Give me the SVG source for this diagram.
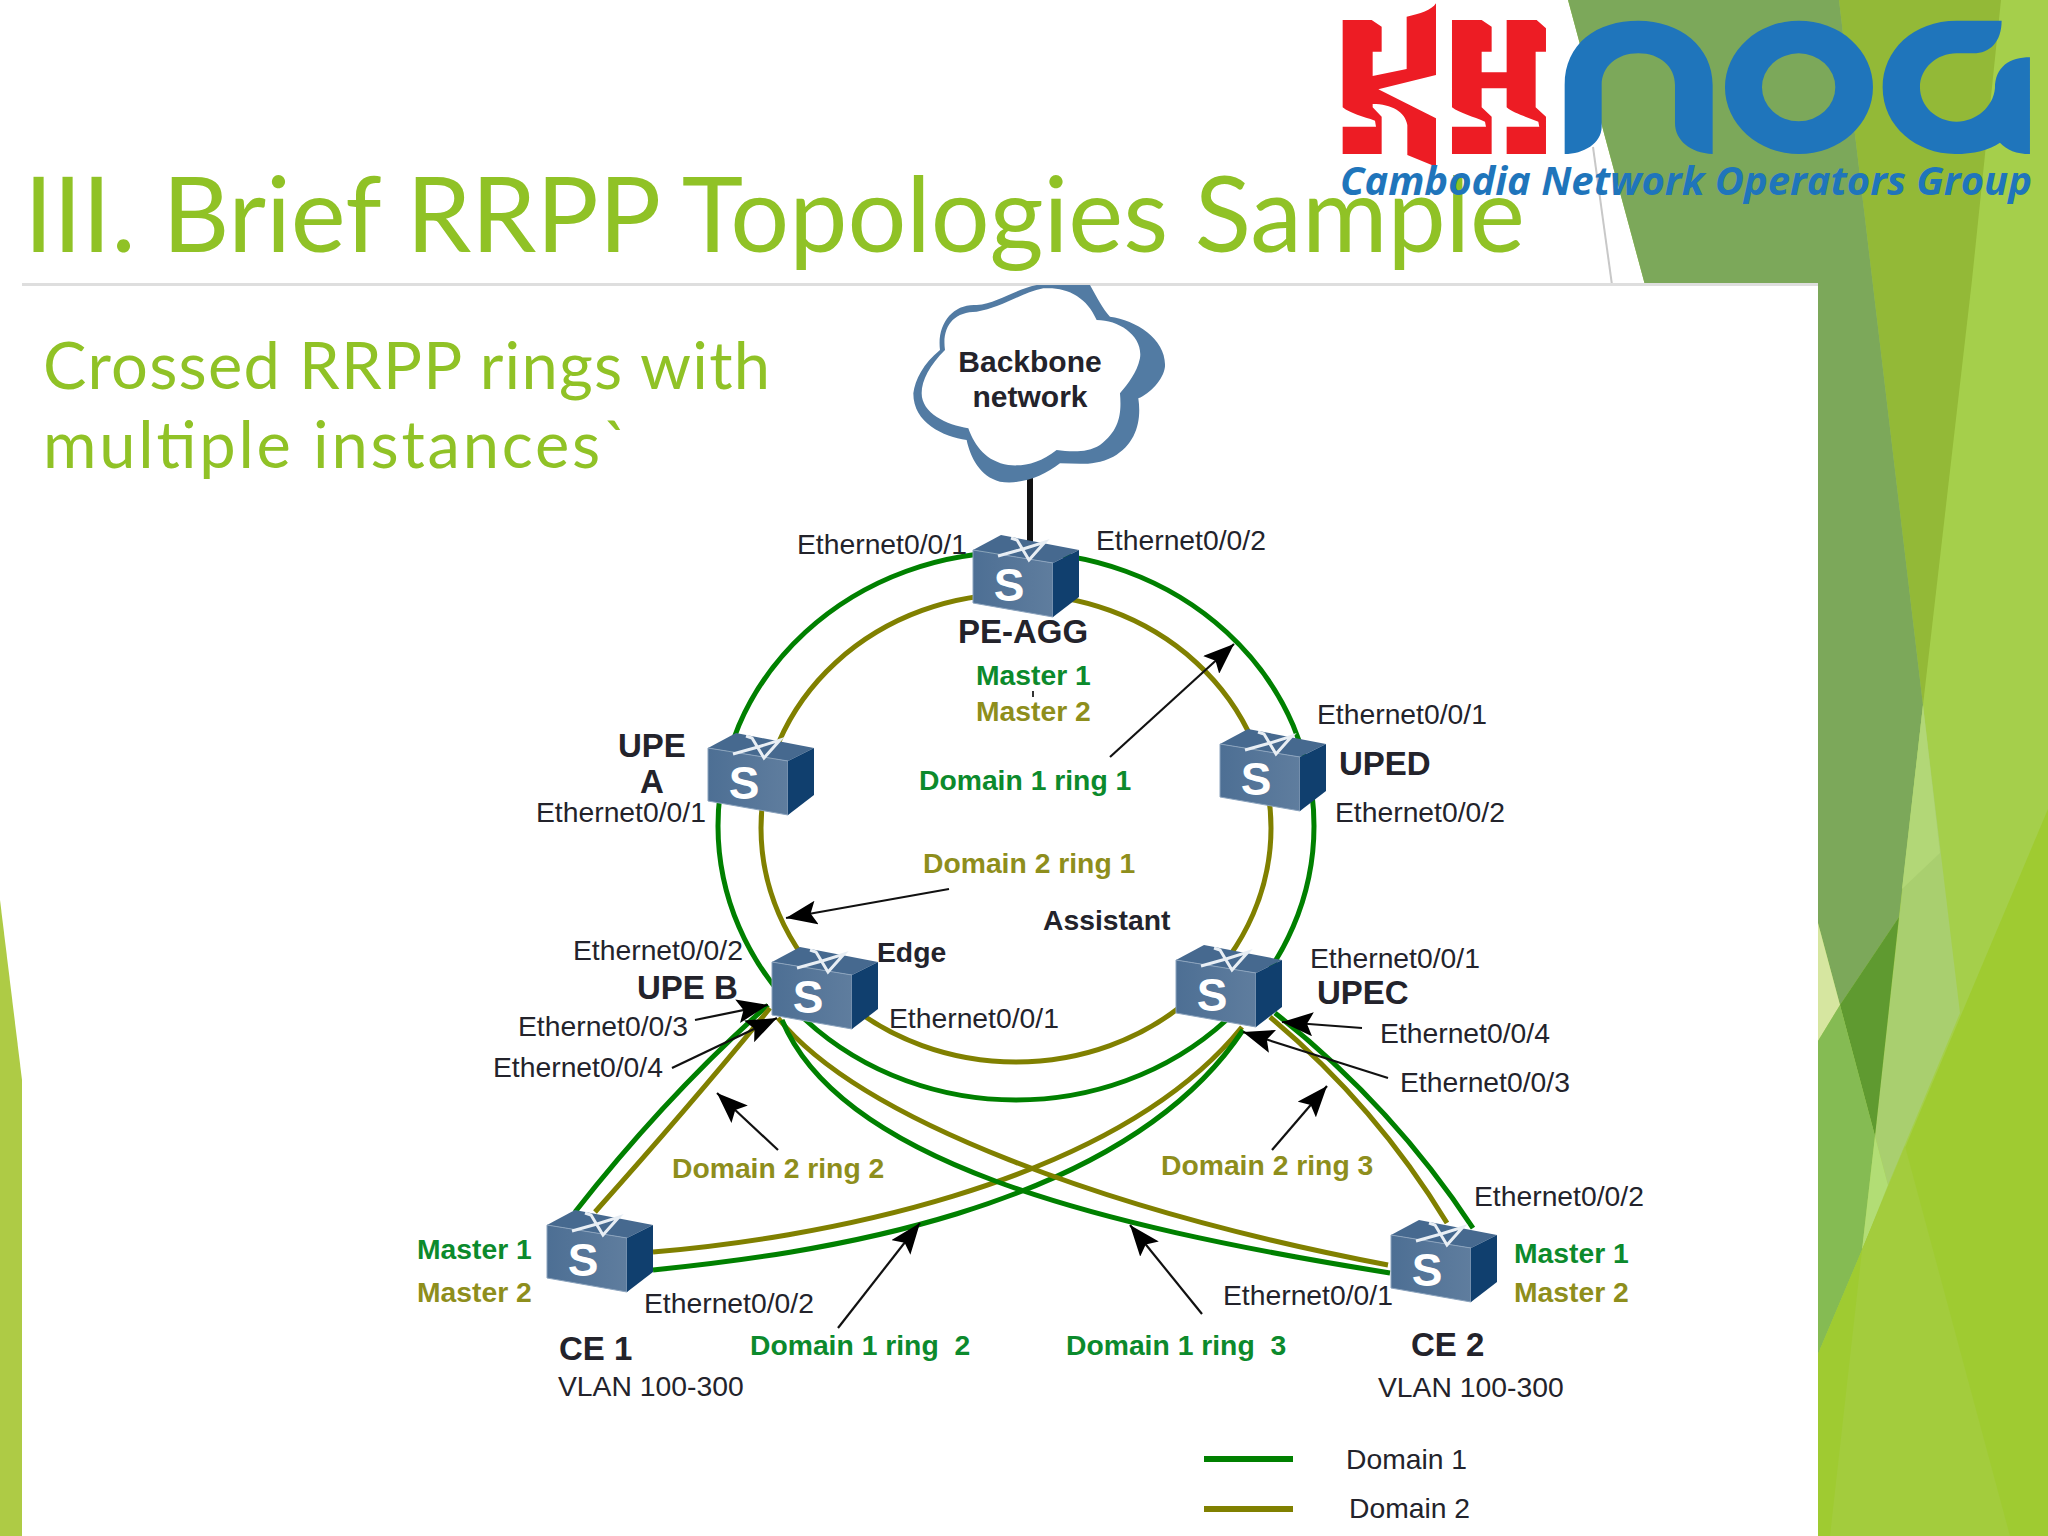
<svg xmlns="http://www.w3.org/2000/svg" width="2048" height="1536" viewBox="0 0 2048 1536">
<style>
text{font-family:"Liberation Sans",Arial,sans-serif;font-size:28.3px;fill:#23232b;white-space:pre}
.b{font-weight:700}
.g{font-weight:700;fill:#0c8a2c}
.o{font-weight:700;fill:#8e8e1c}
.n{font-size:33px;font-weight:700}
.t{font-family:Lato,"Noto Sans",sans-serif;fill:#90c226}
.h1{font-size:104px}
.h2{font-size:65px}
.rg{fill:none;stroke:#008000;stroke-width:5}
.ro{fill:none;stroke:#808000;stroke-width:5}
.ar{fill:none;stroke:#111;stroke-width:2.2;marker-end:url(#ah)}
.s{font-size:46px;fill:#fff;text-anchor:middle;font-weight:700}
</style>
<defs>
<marker id="ah" markerUnits="userSpaceOnUse" markerWidth="32" markerHeight="24" viewBox="0 0 32 24" refX="31" refY="12" orient="auto"><path d="M0,0L31,12L0,24L6,12Z" fill="#000"/></marker>
<linearGradient id="fr" x1="0" x2="1" y1="0" y2="0"><stop offset="0" stop-color="#4d6f94"/><stop offset="1" stop-color="#5f7d9e"/></linearGradient>
<clipPath id="cc"><rect x="880" y="285" width="320" height="300"/></clipPath>
<symbol id="sw" overflow="visible">
<path d="M0,15L28,0L106,15L80,28Z" fill="#46698f"/>
<path d="M0,15L80,28V82L0,68Z" fill="url(#fr)" stroke="#8ba3bd" stroke-width="1"/>
<path d="M80,28L106,15V62L80,82Z" fill="#103f6e"/>
<path d="M25,21L50,14L72,7L56,25L44,5L38,3" fill="none" stroke="#e8eef4" stroke-width="3"/>
</symbol>
</defs>

<g id="background">
<rect width="2048" height="1536" fill="#fff"/>
<path d="M1568,0H2048V1536H1818V285H1645Z" fill="#a5cf4b"/>
<path d="M1839,0H2001L1972,280L1923,705Z" fill="#93b937"/>
<path d="M1568,0H1839L1923,705L1899,917L1840,1005L1818,923V285H1645Z" fill="#7ca85a"/>
<path d="M1923,705L1960,1013L1888,1185L1875,1136Z" fill="#a9cf6f"/>
<path d="M1923,705L1940,853L1902,889Z" fill="#b2d777"/>
<path d="M1840,1005L1899,917L1875,1136Z" fill="#5f9a30"/>
<path d="M1818,923L1840,1005L1818,1041Z" fill="#d6e6a0"/>
<path d="M1818,1041L1840,1005L1875,1136L1862,1250L1818,1354Z" fill="#85bb53"/>
<path d="M1875,1136L1888,1185L1862,1250Z" fill="#b2dd75"/>
<path d="M1818,1354L2048,809V1536H1818Z" fill="#9fcb31"/>
<path d="M1862,1250L1905,1146L2010,1536H1830Z" fill="#a3cc3d"/>
<path d="M0,900L22,1080V1536H0Z" fill="#aecb45"/>
<path d="M1593,147L1612,285" stroke="#c8c8c8" stroke-width="2" fill="none"/>
<rect x="22" y="283" width="1796" height="3" fill="#dedede"/>
</g>

<g id="headings">
<text class="t h1" x="24" y="252" textLength="1501">III. Brief RRPP Topologies Sample</text>
<text class="t h2" x="43" y="389" textLength="727">Crossed RRPP rings with</text>
<text class="t h2" x="43" y="468" textLength="586">multiple instances`</text>
</g>

<g id="logo">
<g transform="translate(1330,0) scale(.3333)" fill="#ed1c24">
<path d="M38,60H125L155,80V155H128V228L230,207V50C270,42 305,30 318,10V225L145,268L318,355V500L232,465V375C225,335 185,312 128,312V322L155,350V462H38V380H138L135,362C100,350 60,340 38,322Z"/>
<path d="M366,60H455L485,80V155H455V217H530V60H620L648,85V155H617V322L648,350V462H530V380H628L625,365C590,350 550,340 530,322V265H455V322L485,350V462H366V380H468L465,365C430,350 390,340 366,322Z"/>
</g>
<g transform="translate(1560,0) scale(.3333)" fill="#1f75bb">
<path d="M14,462V255C14,130 110,62 235,62C360,62 458,140 458,255V462C390,460 345,420 345,370V255C345,200 300,160 235,160C170,160 125,200 125,255V380C125,430 70,462 14,462Z"/>
<path fill-rule="evenodd" d="M495,262A222,200 0 1 1 939,262A222,200 0 1 1 495,262ZM606,262A110,102 0 1 0 826,262A110,102 0 1 0 606,262Z"/>
<path d="M1325,62H1190C1060,62 968,150 968,262C968,380 1070,462 1185,462C1240,462 1290,450 1320,428C1340,450 1370,462 1410,462V172C1350,172 1305,200 1305,265C1300,320 1250,365 1190,365C1130,365 1080,320 1080,262C1080,205 1130,160 1190,160H1240C1290,160 1325,125 1325,62Z"/>
</g>
<text x="1340" y="195" style="font-family:'Open Sans','Liberation Sans',sans-serif;font-size:40px;font-weight:700;font-style:italic;fill:#1f75bb" textLength="692">Cambodia Network Operators Group</text>
</g>

<g id="connectors">
<path d="M1030,478V545" fill="none" stroke="#111" stroke-width="6"/>
<ellipse class="rg" cx="1016" cy="826" rx="298" ry="274"/>
<ellipse class="ro" cx="1016" cy="828" rx="255" ry="234"/>
<path class="rg" d="M575,1212Q665,1097 768,1005"/>
<path class="ro" d="M595,1212Q695,1100 770,1008"/>
<path class="ro" d="M653,1252C800,1240 1110,1190 1242,1027"/>
<path class="rg" d="M653,1270C800,1255 1120,1215 1243,1030"/>
<path class="ro" d="M778,1018C860,1120 1110,1212 1388,1265"/>
<path class="rg" d="M782,1020C840,1160 1090,1225 1390,1273"/>
<path class="rg" d="M1275,1013Q1392,1105 1473,1228"/>
<path class="ro" d="M1270,1017Q1376,1106 1447,1223"/>
<path d="M1033,691V697" stroke="#333" stroke-width="2" fill="none"/>
<path class="ar" d="M1110,757L1234,644"/>
<path class="ar" d="M949,889L786,918"/>
<path class="ar" d="M695,1020L768,1005"/>
<path class="ar" d="M672,1068L777,1018"/>
<path class="ar" d="M778,1150L717,1093"/>
<path class="ar" d="M838,1328L920,1223"/>
<path class="ar" d="M1362,1028L1282,1022"/>
<path class="ar" d="M1388,1078L1243,1032"/>
<path class="ar" d="M1272,1150L1327,1086"/>
<path class="ar" d="M1202,1314L1130,1225"/>
</g>

<g id="cloud">
<g clip-path="url(#cc)"><g transform="translate(880,280) scale(.3333)">
<path fill="#527ba3" d="M100,340C105,300 130,250 180,210C170,130 220,70 290,75C350,70 400,30 470,15L630,15C650,50 670,90 690,110C770,120 860,180 855,260C850,300 810,340 775,355C785,420 770,490 700,530C640,560 590,550 540,550C490,590 420,615 360,605C300,590 270,530 260,480C190,470 100,430 100,340Z"/>
<path fill="#fff" d="M125,340C125,300 150,255 195,210C185,140 220,95 290,95C360,85 420,40 490,25C560,20 620,50 650,120C720,120 790,170 780,235C770,280 745,310 720,340C725,400 720,450 660,495C620,520 570,515 530,510C480,550 430,560 385,555C320,545 285,500 265,445C200,435 125,400 125,340Z"/>
</g></g>
<text class="b" x="1030" y="372" text-anchor="middle" style="font-size:30px">Backbone</text>
<text class="b" x="1030" y="407" text-anchor="middle" style="font-size:30px">network</text>
</g>

<g id="node-pe-agg">
<use href="#sw" x="973" y="535"/><text class="s" x="1009" y="601">S</text>
<text x="797" y="554">Ethernet0/0/1</text><text x="1096" y="550">Ethernet0/0/2</text>
<text class="n" x="958" y="643">PE-AGG</text>
<text class="g" x="976" y="685">Master 1</text><text class="o" x="976" y="721">Master 2</text>
</g>
<g id="node-upe-a">
<use href="#sw" x="708" y="733"/><text class="s" x="744" y="799">S</text>
<text class="n" x="618" y="757">UPE</text><text class="n" x="640" y="793">A</text>
<text x="536" y="822">Ethernet0/0/1</text>
</g>
<g id="node-uped">
<use href="#sw" x="1220" y="729"/><text class="s" x="1256" y="795">S</text>
<text x="1317" y="724">Ethernet0/0/1</text><text class="n" x="1339" y="775">UPED</text>
<text x="1335" y="822">Ethernet0/0/2</text>
</g>
<g id="node-upe-b">
<use href="#sw" x="772" y="947"/><text class="s" x="808" y="1013">S</text>
<text class="b" x="877" y="962">Edge</text><text x="573" y="960">Ethernet0/0/2</text>
<text class="n" x="637" y="999">UPE B</text>
<text x="518" y="1036">Ethernet0/0/3</text><text x="493" y="1077">Ethernet0/0/4</text>
<text x="889" y="1028">Ethernet0/0/1</text>
</g>
<g id="node-upec">
<use href="#sw" x="1176" y="945"/><text class="s" x="1212" y="1011">S</text>
<text class="b" x="1043" y="930">Assistant</text>
<text x="1310" y="968">Ethernet0/0/1</text><text class="n" x="1317" y="1004">UPEC</text>
<text x="1380" y="1043">Ethernet0/0/4</text><text x="1400" y="1092">Ethernet0/0/3</text>
</g>
<g id="node-ce1">
<use href="#sw" x="547" y="1210"/><text class="s" x="583" y="1276">S</text>
<text class="g" x="417" y="1259">Master 1</text><text class="o" x="417" y="1302">Master 2</text>
<text x="644" y="1313">Ethernet0/0/2</text>
<text class="n" x="559" y="1360">CE 1</text><text x="558" y="1396">VLAN 100-300</text>
</g>
<g id="node-ce2">
<use href="#sw" x="1391" y="1220"/><text class="s" x="1427" y="1286">S</text>
<text x="1474" y="1206">Ethernet0/0/2</text><text x="1223" y="1305">Ethernet0/0/1</text>
<text class="g" x="1514" y="1263">Master 1</text><text class="o" x="1514" y="1302">Master 2</text>
<text class="n" x="1411" y="1356">CE 2</text><text x="1378" y="1397">VLAN 100-300</text>
</g>

<g id="ring-labels">
<text class="g" x="919" y="790">Domain 1 ring 1</text>
<text class="o" x="923" y="873">Domain 2 ring 1</text>
<text class="o" x="672" y="1178">Domain 2 ring 2</text>
<text class="o" x="1161" y="1175">Domain 2 ring 3</text>
<text class="g" x="750" y="1355">Domain 1 ring  2</text>
<text class="g" x="1066" y="1355">Domain 1 ring  3</text>
</g>

<g id="legend">
<path d="M1204,1459H1293" stroke="#008000" stroke-width="6" fill="none"/>
<path d="M1204,1509H1293" stroke="#808000" stroke-width="6" fill="none"/>
<text x="1346" y="1469">Domain 1</text>
<text x="1349" y="1518">Domain 2</text>
</g>
</svg>
